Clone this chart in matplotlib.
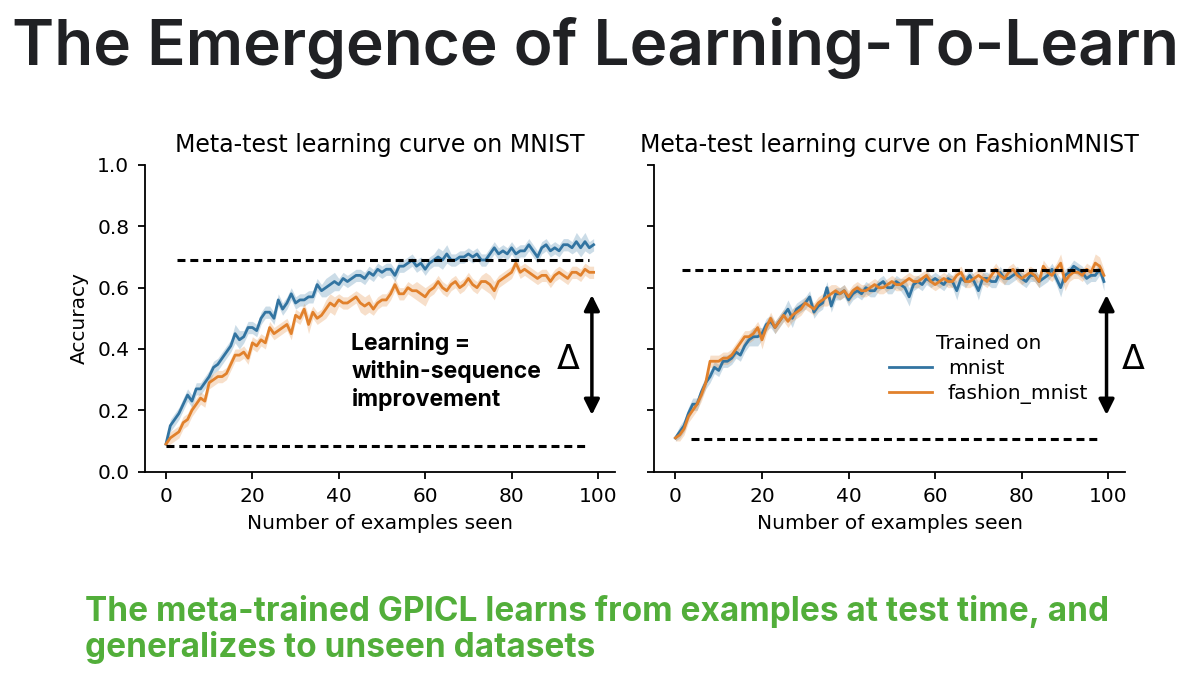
import numpy as np
import matplotlib
matplotlib.use("Agg")
from matplotlib import pyplot as plt

plt.rcParams["font.family"] = "DejaVu Sans"

# number of examples seen (0..99)
steps = np.arange(100)

# accuracy in percent
mnist_on_mnist = [
    9, 15, 17, 19, 22, 25, 23, 27, 27, 29,
    31, 34, 35, 37, 39, 41, 45, 43, 44, 47,
    47, 46, 50, 52, 52, 50, 56, 53, 55, 58,
    55, 56, 56, 57, 57, 61, 59, 60, 61, 62,
    61, 63, 62, 63, 64, 64, 63, 65, 64, 66,
    65, 66, 66, 64, 67, 67, 68, 69, 67, 68,
    66, 68, 69, 70, 69, 71, 69, 69, 70, 70,
    71, 70, 71, 69, 69, 71, 73, 71, 72, 71,
    73, 71, 72, 72, 74, 72, 70, 73, 74, 72,
    73, 72, 74, 74, 73, 75, 73, 75, 73, 74]
fashion_on_mnist = [
    9, 11, 12, 13, 16, 17, 20, 22, 24, 23,
    29, 30, 31, 31, 32, 35, 38, 38, 39, 37,
    42, 41, 43, 42, 47, 45, 46, 47, 48, 45,
    51, 50, 53, 48, 52, 50, 51, 53, 55, 54,
    56, 55, 55, 56, 57, 55, 54, 55, 53, 55,
    56, 56, 58, 61, 58, 58, 60, 59, 59, 58,
    57, 59, 60, 62, 60, 59, 61, 62, 60, 61,
    63, 61, 60, 62, 62, 61, 59, 62, 63, 64,
    65, 68, 65, 66, 65, 64, 63, 64, 64, 62,
    64, 65, 64, 63, 65, 65, 64, 66, 65, 65]
mnist_on_fashion = [
    11, 13, 15, 19, 22, 22, 26, 29, 31, 34,
    33, 36, 36, 37, 39, 38, 41, 43, 44, 44,
    45, 48, 49, 47, 49, 51, 53, 50, 53, 54,
    55, 57, 52, 54, 55, 60, 54, 58, 58, 59,
    56, 58, 59, 58, 60, 59, 59, 61, 62, 60,
    60, 62, 61, 60, 57, 61, 62, 61, 63, 62,
    63, 62, 61, 63, 62, 59, 63, 62, 64, 62,
    59, 63, 63, 62, 62, 65, 63, 63, 64, 65,
    63, 62, 64, 64, 62, 63, 64, 66, 63, 60,
    64, 65, 67, 66, 65, 63, 64, 64, 66, 62]
fashion_on_fashion = [
    11, 12, 14, 18, 20, 22, 25, 29, 36, 36,
    36, 37, 37, 38, 40, 42, 44, 44, 45, 47,
    43, 47, 50, 47, 49, 51, 49, 51, 52, 53,
    55, 54, 53, 55, 56, 57, 58, 59, 58, 59,
    57, 59, 60, 59, 59, 60, 61, 60, 60, 61,
    62, 61, 61, 62, 63, 62, 62, 63, 64, 62,
    61, 62, 63, 62, 62, 64, 65, 62, 62, 63,
    64, 63, 62, 64, 66, 64, 63, 65, 66, 64,
    63, 64, 65, 64, 62, 67, 65, 64, 66, 68,
    62, 64, 65, 65, 64, 66, 65, 68, 67, 64]

# half width of the confidence band, percent
band_mnist_on_mnist = [
    1, 2, 2, 2, 2, 2, 2, 2, 2, 2,
    2, 2, 2, 2, 2, 2, 3, 3, 2, 2,
    2, 2, 2, 2, 2, 2, 2, 2, 2, 2,
    2, 2, 2, 2, 2, 2, 2, 3, 3, 3,
    2, 2, 2, 2, 2, 2, 2, 2, 2, 2,
    2, 2, 2, 2, 2, 2, 2, 2, 2, 2,
    2, 2, 2, 3, 3, 3, 2, 2, 2, 2,
    2, 2, 2, 2, 2, 2, 2, 2, 2, 2,
    2, 2, 2, 2, 2, 2, 2, 2, 2, 2,
    2, 2, 2, 2, 2, 3, 3, 3, 2, 2]
band_fashion_on_mnist = [
    1, 2, 2, 2, 2, 2, 2, 2, 2, 2,
    2, 2, 2, 2, 2, 2, 2, 2, 2, 2,
    2, 2, 2, 2, 2, 2, 2, 2, 2, 2,
    2, 2, 2, 3, 2, 2, 2, 3, 3, 3,
    2, 2, 2, 2, 2, 3, 3, 3, 2, 2,
    2, 2, 2, 2, 2, 2, 2, 2, 3, 3,
    3, 2, 2, 2, 2, 2, 2, 2, 2, 2,
    2, 2, 2, 2, 3, 3, 3, 2, 2, 2,
    2, 2, 2, 2, 2, 2, 2, 2, 2, 2,
    2, 2, 2, 2, 2, 2, 2, 2, 2, 2]
band_mnist_on_fashion = [
    1, 2, 2, 2, 2, 2, 2, 2, 2, 2,
    2, 2, 2, 2, 2, 2, 2, 2, 3, 3,
    2, 2, 2, 2, 2, 2, 3, 3, 2, 2,
    2, 2, 2, 2, 2, 2, 2, 2, 2, 2,
    2, 2, 2, 2, 2, 2, 2, 2, 2, 2,
    2, 2, 2, 3, 3, 2, 2, 2, 2, 2,
    2, 2, 2, 2, 2, 3, 2, 2, 2, 2,
    3, 2, 2, 2, 2, 2, 2, 2, 2, 2,
    2, 2, 2, 2, 2, 2, 2, 2, 2, 3,
    2, 2, 2, 2, 2, 2, 2, 2, 2, 3]
band_fashion_on_fashion = [
    1, 2, 2, 2, 2, 2, 2, 2, 2, 2,
    2, 2, 2, 2, 2, 2, 2, 2, 2, 2,
    3, 2, 2, 2, 2, 2, 2, 2, 2, 2,
    2, 2, 2, 2, 2, 3, 3, 2, 2, 2,
    2, 2, 2, 2, 2, 2, 2, 2, 2, 2,
    2, 2, 2, 2, 2, 2, 2, 2, 2, 2,
    2, 2, 2, 2, 2, 2, 2, 2, 2, 2,
    2, 2, 2, 2, 2, 2, 2, 2, 2, 2,
    2, 2, 2, 2, 2, 2, 2, 2, 2, 3,
    3, 2, 2, 2, 2, 2, 2, 3, 3, 2]

# reference levels (chance and final accuracy) and the delta arrows
mnist_levels = [0.085, 0.69]
fashion_levels = [0.107, 0.658]
arrow_span = [0.185, 0.576]

panel_titles = ["Meta-test learning curve on MNIST",
                "Meta-test learning curve on FashionMNIST"]
legend_labels = ["mnist", "fashion_mnist"]

blue = "#3274a1"
orange = "#e1812c"
slide_font = "Inter"

fig = plt.figure(figsize=(12, 6.82), dpi=100)
ax1 = fig.add_axes([0.1205, 0.3084, 0.392, 0.4497])
ax2 = fig.add_axes([0.545, 0.3084, 0.3928, 0.4497], sharey=ax1)

panels = [
    (ax1, mnist_on_mnist, fashion_on_mnist, band_mnist_on_mnist, band_fashion_on_mnist),
    (ax2, mnist_on_fashion, fashion_on_fashion, band_mnist_on_fashion, band_fashion_on_fashion),
]
for ax, b, o, bb, ob in panels:
    for vals, band, c, lab in [(b, bb, blue, legend_labels[0]), (o, ob, orange, legend_labels[1])]:
        v = np.array(vals) / 100
        w = np.array(band) / 100
        ax.fill_between(steps, v - w, v + w, color=c, alpha=0.25, lw=0)
        ax.plot(steps, v, color=c, lw=2.0, label=lab)
    for s in ["top", "right"]:
        ax.spines[s].set_visible(False)
    for s in ["left", "bottom"]:
        ax.spines[s].set_linewidth(1.3)
    ax.set_ylim(0, 1)
    ax.set_xticks([0, 20, 40, 60, 80, 100])
    ax.tick_params(labelsize=14.5, length=5, width=1.3, pad=6)
    ax.set_xlabel("Number of examples seen", fontsize=14.5, labelpad=6)

ax1.set_yticks([0, 0.2, 0.4, 0.6, 0.8, 1.0])
ax1.set_ylabel("Accuracy", fontsize=14.5, labelpad=6)
ax2.tick_params(labelleft=False)
ax1.set_title(panel_titles[0], fontsize=17, pad=9)
ax2.set_title(panel_titles[1], fontsize=17, pad=9)

dash = (0, (2.6, 1.6))
ax1.hlines(mnist_levels[1], 2.5, 98, colors="black", lw=2.2, linestyles=dash)
ax1.hlines(mnist_levels[0], 0, 97.5, colors="black", lw=2.2, linestyles=dash)
ax2.hlines(fashion_levels[1], 1.5, 98, colors="black", lw=2.2, linestyles=dash)
ax2.hlines(fashion_levels[0], 3.5, 98, colors="black", lw=2.2, linestyles=dash)

for ax, xa, xd in [(ax1, 98.6, 93), (ax2, 99.6, 105.8)]:
    ax.annotate("", xy=(xa, arrow_span[0]), xytext=(xa, arrow_span[1]),
                arrowprops=dict(arrowstyle="<|-|>", color="black", lw=2.5,
                                mutation_scale=23, shrinkA=0, shrinkB=0))
    ax.text(xd, 0.365, "\u0394", fontsize=24, ha="center", va="center",
            clip_on=False)

ax1.text(42.9, 0.327, "Learning =\nwithin-sequence\nimprovement", fontsize=16.5,
         fontweight="bold", family=slide_font, va="center", ha="left",
         linespacing=1.28)

leg = ax2.legend(title="Trained on", loc="center", bbox_to_anchor=(0.71, 0.335),
                 frameon=False, fontsize=14.5, title_fontsize=14.5,
                 handlelength=2.1, labelspacing=0.3)

fig.text(0.01, 0.905, "The Emergence of Learning-To-Learn", fontsize=46,
         family=slide_font, fontweight="semibold", color="#202124")
fig.text(0.071, 0.036, "The meta-trained GPICL learns from examples at test time, and\n"
         "generalizes to unseen datasets", fontsize=24, family=slide_font,
         fontweight="bold", color="#52ae3a", linespacing=1.15)

plt.savefig("out.png", dpi=100)
